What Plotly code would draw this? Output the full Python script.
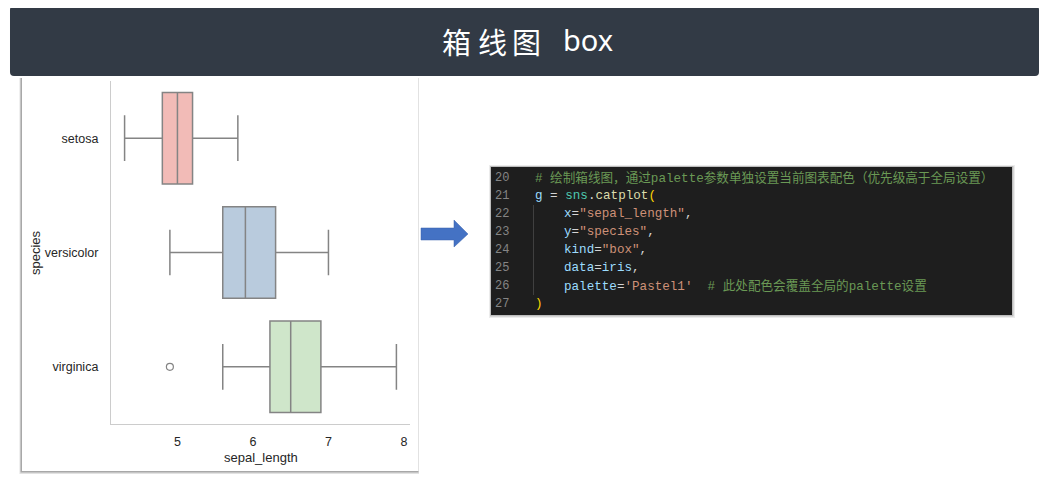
import plotly.graph_objects as go

# page has an 8px body margin: the figure is sized to fit and coordinates are shifted
OFF = 8
W, H = 1049 - OFF, 479 - OFF

# ---- data (iris sepal_length box statistics) ----
species = ["setosa", "versicolor", "virginica"]
q1 = [4.8, 5.6, 6.225]
median = [5.0, 5.9, 6.5]
q3 = [5.2, 6.3, 6.9]
lower_whisker = [4.3, 4.9, 5.6]
upper_whisker = [5.8, 7.0, 7.9]
outlier_species = ["virginica"]
outlier_values = [4.9]
x_ticks = [5, 6, 7, 8]
fill_colors = ["#f2bbb7", "#b9cbdd", "#cfe6ca"]

def X(p):
    return (p - OFF) / W

def Y(p):
    return 1 - (p - OFF) / H

fig = go.Figure()

for s, a, m, b, lo, hi, c in zip(species, q1, median, q3, lower_whisker, upper_whisker, fill_colors):
    fig.add_trace(go.Box(
        y=[s], q1=[a], median=[m], q3=[b], lowerfence=[lo], upperfence=[hi],
        orientation="h", width=0.8, whiskerwidth=0.5, boxpoints=False,
        fillcolor=c, line=dict(color="#848484", width=1.5), showlegend=False,
        hoverinfo="skip",
    ))

fig.add_trace(go.Scatter(
    x=outlier_values, y=outlier_species, mode="markers",
    marker=dict(symbol="circle-open", size=7, color="#848484", line=dict(width=1.2)),
    showlegend=False, hoverinfo="skip",
))

shapes = []
# chart card with shadow (left and bottom)
shapes.append(dict(type="rect", xref="paper", yref="paper", x0=X(19.5), x1=X(419), y0=Y(474), y1=Y(78),
                   fillcolor="#e2e2e2", line=dict(width=0), layer="below"))
shapes.append(dict(type="rect", xref="paper", yref="paper", x0=X(20.5), x1=X(418.5), y0=Y(472.5), y1=Y(78),
                   fillcolor="#a8a8a8", line=dict(width=0), layer="below"))
shapes.append(dict(type="rect", xref="paper", yref="paper", x0=X(22), x1=X(418.5), y0=Y(471), y1=Y(78),
                   fillcolor="white", line=dict(width=0), layer="below"))

# banner with rounded corners
def rounded(x0, y0, x1, y1, r):
    pts = [
        ("M", X(x0 + r), Y(y0)), ("L", X(x1 - r), Y(y0)), ("Q", X(x1), Y(y0), X(x1), Y(y0 + r)),
        ("L", X(x1), Y(y1 - r)), ("Q", X(x1), Y(y1), X(x1 - r), Y(y1)),
        ("L", X(x0 + r), Y(y1)), ("Q", X(x0), Y(y1), X(x0), Y(y1 - r)),
        ("L", X(x0), Y(y0 + r)), ("Q", X(x0), Y(y0), X(x0 + r), Y(y0)),
    ]
    out = []
    for p in pts:
        if p[0] == "Q":
            out.append(f"Q{p[1]:.6f},{p[2]:.6f} {p[3]:.6f},{p[4]:.6f}")
        else:
            out.append(f"{p[0]}{p[1]:.6f},{p[2]:.6f}")
    return " ".join(out) + " Z"

shapes.append(dict(type="path", xref="paper", yref="paper", path=rounded(10, 6, 1039, 76, 4),
                   fillcolor="#323a45", line=dict(width=0), layer="above"))

# arrow
arrow = [(421, 228), (454, 228), (454, 220), (468, 234), (454, 247), (454, 240), (421, 240)]
path = "M" + " L".join(f"{X(a):.6f},{Y(b):.6f}" for a, b in arrow) + " Z"
shapes.append(dict(type="path", xref="paper", yref="paper", path=path,
                   fillcolor="#4472c4", line=dict(color="#3a62ad", width=0.5), layer="above"))

# code block with shadow
shapes.append(dict(type="rect", xref="paper", yref="paper", x0=X(489), x1=X(1015), y0=Y(318), y1=Y(165),
                   fillcolor="#ececec", line=dict(width=0), layer="below"))
shapes.append(dict(type="rect", xref="paper", yref="paper", x0=X(490), x1=X(1013.5), y0=Y(316.5), y1=Y(166),
                   fillcolor="#bdbdbd", line=dict(width=0), layer="below"))
shapes.append(dict(type="rect", xref="paper", yref="paper", x0=X(491), x1=X(1012), y0=Y(315), y1=Y(167),
                   fillcolor="#1e1e1e", line=dict(width=0), layer="below"))
# indent guide
shapes.append(dict(type="line", xref="paper", yref="paper", x0=X(533.5), x1=X(533.5), y0=Y(205), y1=Y(295),
                   line=dict(color="#404040", width=1), layer="above"))

annotations = []
# title
for ch, cx in zip(["箱", "线", "图"], [456, 492, 526]):
    annotations.append(dict(text=ch, x=X(cx), y=Y(41), xref="paper", yref="paper", showarrow=False,
                            xanchor="center", yanchor="middle",
                            font=dict(family="Noto Sans CJK SC", size=29, color="white")))
annotations.append(dict(text="box", x=X(588), y=Y(40), xref="paper", yref="paper", showarrow=False,
                        xanchor="center", yanchor="middle",
                        font=dict(family="Noto Sans", size=29, color="white")))

# axis titles
annotations.append(dict(text="species", x=X(35), y=Y(253), xref="paper", yref="paper", showarrow=False,
                        textangle=-90, xanchor="center", yanchor="middle",
                        font=dict(family="Liberation Sans, Arial", size=13, color="#262626")))
annotations.append(dict(text="sepal_length", x=X(261), y=Y(457), xref="paper", yref="paper", showarrow=False,
                        xanchor="center", yanchor="middle",
                        font=dict(family="Liberation Sans, Arial", size=13, color="#262626")))

# code lines
C_NUM = "#858585"
C_CMT = "#6a9955"
C_VAR = "#9cdcfe"
C_TXT = "#d4d4d4"
C_CLS = "#4ec9b0"
C_FN = "#dcdcaa"
C_BR = "#ffd700"
C_STR = "#ce9178"
NB = "\u00a0"
code_lines = [
    ("20", 533, [("#" + NB + "绘制箱线图，通过palette参数单独设置当前图表配色（优先级高于全局设置）", C_CMT)]),
    ("21", 533, [("g", C_VAR), (NB + "=" + NB, C_TXT), ("sns", C_CLS), (".", C_TXT), ("catplot", C_FN), ("(", C_BR)]),
    ("22", 562, [("x", C_VAR), ("=", C_TXT), ('"sepal_length"', C_STR), (",", C_TXT)]),
    ("23", 562, [("y", C_VAR), ("=", C_TXT), ('"species"', C_STR), (",", C_TXT)]),
    ("24", 562, [("kind", C_VAR), ("=", C_TXT), ('"box"', C_STR), (",", C_TXT)]),
    ("25", 562, [("data", C_VAR), ("=", C_TXT), ("iris", C_VAR), (",", C_TXT)]),
    ("26", 562, [("palette", C_VAR), ("=", C_TXT), ("'Pastel1'", C_STR),
                 (NB + NB + "#" + NB + "此处配色会覆盖全局的palette设置", C_CMT)]),
    ("27", 533, [(")", C_BR)]),
]
line_y = [178, 196, 214, 232, 250, 268, 286, 304]
mono = "Liberation Mono, Noto Sans CJK SC, monospace"
for (num, xstart, segs), ly in zip(code_lines, line_y):
    annotations.append(dict(text=num, x=X(493), y=Y(ly), xref="paper", yref="paper", showarrow=False,
                            xanchor="left", yanchor="middle",
                            font=dict(family=mono, size=12, color=C_NUM)))
    html = "".join(f'<span style="color:{c}">{t}</span>' for t, c in segs)
    annotations.append(dict(text=html, x=X(xstart), y=Y(ly), xref="paper", yref="paper", showarrow=False,
                            xanchor="left", yanchor="middle",
                            font=dict(family=mono, size=12.6, color=C_TXT)))

fig.update_layout(
    width=W, height=H,
    margin=dict(l=0, r=0, t=0, b=0),
    paper_bgcolor="white",
    plot_bgcolor="rgba(0,0,0,0)",
    shapes=shapes,
    annotations=annotations,
    boxmode="overlay",
    xaxis=dict(
        domain=[X(111), X(410)], range=[4.12, 8.08],
        tickvals=x_ticks, ticktext=[str(t) for t in x_ticks],
        showline=True, linecolor="#cccccc", linewidth=1.3,
        showgrid=False, zeroline=False,
        ticks="outside", ticklen=6, tickcolor="rgba(0,0,0,0)",
        tickfont=dict(family="Liberation Sans, Arial", size=12.5, color="#262626"),
    ),
    yaxis=dict(
        domain=[Y(424), Y(81)], type="category",
        categoryorder="array", categoryarray=species, range=[2.5, -0.5],
        showline=True, linecolor="#cccccc", linewidth=1.3,
        showgrid=False, zeroline=False,
        ticks="outside", ticklen=9, tickcolor="rgba(0,0,0,0)",
        tickfont=dict(family="Liberation Sans, Arial", size=12.5, color="#262626"),
    ),
)

fig.write_html("out.html")
